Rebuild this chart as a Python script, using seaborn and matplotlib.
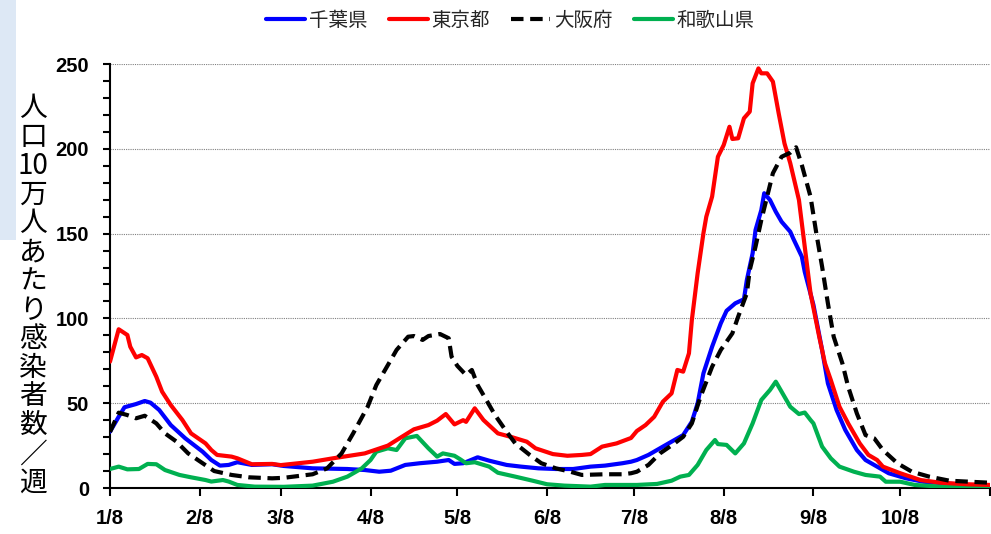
import matplotlib
matplotlib.use("Agg")
import matplotlib.pyplot as plt
from matplotlib import font_manager
from matplotlib.patches import Rectangle
from matplotlib.ticker import MultipleLocator
import seaborn as sns
import pandas as pd

# ---------------- data (days after 2021-01-08, values per 100k per week) -------------
start = "2021-01-08"

chiba_days = [0, 3, 5, 9, 12, 14, 17, 21, 26, 32, 35, 38, 41, 44, 49, 56, 60, 70, 82, 88, 93, 97,
              102, 107, 113, 117, 119, 122, 127, 131, 137, 142, 148, 154, 160, 166, 171, 177, 180,
              182, 186, 191, 195, 198, 201, 203, 205, 208, 211, 213, 216, 219, 220, 222, 223, 225,
              226, 228, 230, 232, 235, 236, 239, 240, 243, 246, 248, 251, 254, 258, 261, 265, 269,
              275, 281, 287, 296, 304]
chiba_vals = [33.2, 42, 47.6, 49.5, 51.3, 50.3, 46, 37.1, 29.3, 21.4, 16.5, 13.2, 13.6, 15.2, 13.6,
              14, 13, 11.6, 11.2, 10.6, 9.6, 10.2, 13.6, 14.6, 15.5, 16.5, 14.2, 14.6, 18.1, 16.1,
              13.6, 12.6, 11.6, 11.2, 11.2, 12.6, 13.2, 14.6, 15.5, 16.5, 19.5, 24.4, 28.3, 31.2,
              39.1, 49.9, 67.6, 83.3, 97.1, 104.5, 108.9, 111.3, 122.6, 138.4, 152.1, 163.9, 173.8,
              169.8, 162.9, 157, 151.1, 147.2, 136.4, 127.5, 108, 81.4, 61.7, 46, 34.2, 22.4, 16.5,
              12.6, 8.7, 5.7, 3.7, 2.9, 1.8, 1.5]

tokyo_days = [0, 3, 6, 7, 9, 11, 13, 16, 18, 21, 25, 28, 33, 35, 37, 42, 44, 49, 56, 59, 70, 77,
              88, 96, 100, 105, 110, 113, 116, 119, 122, 123, 126, 129, 134, 139, 144, 147, 153,
              158, 163, 166, 170, 175, 180, 182, 185, 188, 191, 194, 196, 198, 200, 201, 203, 205,
              206, 208, 210, 212, 214, 215, 217, 219, 221, 222, 224, 225, 227, 229, 231, 233, 235,
              238, 240, 242, 245, 247, 249, 252, 255, 259, 262, 265, 267, 273, 280, 287, 296, 304]
tokyo_vals = [74.5, 93.6, 90.2, 83.3, 77, 78.4, 76.5, 65.6, 56.8, 48.9, 40.1, 32.2, 26.3, 22.4,
              19.5, 18.5, 17.5, 14, 14.2, 13.5, 15.5, 17.5, 20.4, 25, 29.3, 34.6, 37.1, 39.7, 43.6,
              37.5, 40, 39, 47, 40.1, 32.2, 29.9, 27.3, 23.4, 20, 19, 19.5, 20, 24.4, 26.3, 29.5,
              33.6, 37.1, 42, 50.9, 55.8, 69.6, 68.6, 79.4, 99, 126.6, 150.2, 160, 171.8, 195.3,
              202.2, 213, 205.8, 206.2, 218, 221.9, 238.6, 247.4, 244.5, 244.5, 239.6, 220.9,
              203.2, 191.5, 169.8, 142.3, 114.8, 89.2, 73.5, 63.7, 47.9, 38.1, 26.3, 19.5, 16.5,
              12.6, 8.7, 4.7, 3.1, 2.2, 1.8]

osaka_days = [0, 3, 6, 9, 12, 16, 19, 23, 27, 32, 36, 42, 48, 56, 60, 70, 75, 80, 84, 89, 92, 96,
              99, 103, 105, 108, 110, 114, 117, 118, 120, 123, 125, 127, 130, 133, 137, 140, 145,
              149, 154, 159, 163, 171, 177, 180, 182, 186, 190, 195, 198, 201, 204, 208, 211, 215,
              217, 220, 221, 223, 225, 227, 229, 232, 235, 237, 239, 242, 244, 246, 248, 250, 253,
              255, 258, 261, 264, 267, 272, 277, 283, 290, 297, 304]
osaka_vals = [33, 44.4, 43, 41.1, 42.6, 38.1, 32.2, 27.3, 20.4, 14.6, 10, 7.7, 6.3, 5.7, 6, 8.1,
              11.6, 20.4, 32.2, 47.9, 60.7, 72.5, 81.4, 89.2, 89.6, 87.3, 89.6, 90.8, 88.3, 77.4,
              72, 66.6, 69.6, 60.7, 51.9, 43, 33.2, 26.3, 19.5, 14.6, 11.6, 9.6, 7.7, 8.1, 8.1, 8.7,
              9.6, 13.6, 20.4, 26.3, 30.2, 38.1, 53.8, 71.5, 81.4, 91.2, 101, 114.8, 128.5, 142.3,
              158, 171.8, 185.6, 195.3, 197.7, 200.9, 190.4, 171.8, 150.2, 130.5, 108.9, 89.2,
              73.5, 59.7, 44, 31.2, 29.3, 22.4, 14.6, 9.6, 6.7, 4.3, 3.7, 3.1]

wakayama_days = [0, 3, 6, 10, 13, 16, 19, 24, 28, 33, 35, 39, 41, 44, 50, 60, 70, 77, 82, 87, 90,
                 92, 96, 99, 102, 106, 110, 113, 115, 119, 121, 123, 126, 131, 134, 140, 146, 151,
                 157, 166, 171, 182, 189, 194, 197, 200, 203, 206, 209, 210, 213, 216, 219, 222,
                 225, 228, 230, 232, 235, 238, 240, 242, 243, 246, 249, 252, 257, 261, 266, 268,
                 273, 278, 287, 304]
wakayama_vals = [11.2, 12.6, 11, 11.2, 14.2, 14, 10.6, 7.7, 6.3, 4.7, 3.8, 4.7, 3.8, 1.8, 0.8, 0.7,
                 1.4, 3.7, 6.7, 11.6, 16.5, 21.4, 23.4, 22.4, 29.3, 30.7, 23.4, 18.5, 20.4, 19,
                 16.9, 14.6, 15.2, 12.6, 9, 6.7, 4.3, 2.2, 1.4, 0.8, 1.8, 1.8, 2.4, 4.3, 6.7, 7.7,
                 13.6, 22.4, 28.3, 25.9, 25.4, 20.4, 26.3, 38.1, 51.9, 57.8, 62.7, 56.8, 47.9, 43.6,
                 44.5, 40.1, 38.1, 24.4, 17.5, 12.6, 9.6, 7.7, 6.7, 3.7, 3.7, 1.8, 0.8, 0.8]

series_names = ["千葉県", "東京都", "大阪府", "和歌山県"]
x_tick_labels = ["1/8", "2/8", "3/8", "4/8", "5/8", "6/8", "7/8", "8/8", "9/8", "10/8", ""]
y_label = ["人", "口", "10", "万", "人", "あ", "た", "り", "感", "染", "者", "数", "／", "週"]

# ---------------- style ----------------
sns.set_style("white")
available = {f.name for f in font_manager.fontManager.ttflist}
cjk = "Noto Sans CJK JP"
num_font = "Liberation Sans Narrow" if "Liberation Sans Narrow" in available else "Liberation Sans"
plt.rcParams["font.family"] = [cjk, "DejaVu Sans"]

fig = plt.figure(figsize=(9.91, 5.34), dpi=100)
fig.patch.set_facecolor("white")
fig.patches.append(Rectangle((0, 1 - 240 / 534), 16 / 991, 240 / 534, transform=fig.transFigure,
                             facecolor="#dde8f5", edgecolor="none", zorder=0))

ax = fig.add_axes([110 / 991, 46 / 534, 880 / 991, 424 / 534])

t0 = pd.Timestamp(start)
def to_dates(days):
    return [t0 + pd.Timedelta(days=int(d)) for d in days]

specs = [
    (chiba_days, chiba_vals, series_names[0], "#0000FF", 3),
    (wakayama_days, wakayama_vals, series_names[3], "#00B050", 4),
    (tokyo_days, tokyo_vals, series_names[1], "#FF0000", 5),
    (osaka_days, osaka_vals, series_names[2], "black", 6),
]
lines = {}
for days, vals, name, col, z in specs:
    df = pd.DataFrame({"date": to_dates(days), "value": vals})
    sns.lineplot(data=df, x="date", y="value", ax=ax, color=col, lw=3, label=name, zorder=z,
                 solid_joinstyle="round", solid_capstyle="round")
    lines[name] = ax.lines[-1]
lines["大阪府"].set_linestyle("--")
lines["大阪府"].set_dashes([3, 1.6])

if ax.get_legend() is not None:
    ax.get_legend().remove()

ax.set_xlim(t0, pd.Timestamp("2021-11-08"))
ax.set_ylim(0, 250)
ticks = pd.date_range(start, periods=11, freq=pd.DateOffset(months=1))
ax.set_xticks(ticks)
ax.set_xticklabels(x_tick_labels)
ax.set_yticks(range(0, 251, 50))
ax.yaxis.set_minor_locator(MultipleLocator(10))
ax.set_xlabel("")
ax.set_ylabel("")

for lab in ax.get_xticklabels() + ax.get_yticklabels():
    lab.set_fontfamily(num_font)
    lab.set_fontweight("bold")
    lab.set_fontsize(14.5)
    lab.set_color("black")

ax.tick_params(axis="x", which="major", direction="out", length=6, width=1.5, pad=9, color="black")
ax.tick_params(axis="y", which="both", direction="out", length=5, width=1.5, pad=10, color="black",
               left=True)
ax.tick_params(axis="x", bottom=True)

ax.grid(False)
ax.yaxis.grid(True, which="major", linestyle=(0, (1, 1)), color="#808080", lw=0.8)
ax.set_axisbelow(True)
for s in ["top", "right"]:
    ax.spines[s].set_visible(False)
for s in ["left", "bottom"]:
    ax.spines[s].set_color("black")
    ax.spines[s].set_linewidth(1.5)

# legend
order = ["千葉県", "東京都", "大阪府", "和歌山県"]
fig.legend([lines[n] for n in order], order, loc="center", bbox_to_anchor=(0.515, 0.962), ncol=4,
           frameon=False, prop={"family": cjk, "size": 14}, handlelength=2.0, handletextpad=0.2,
           columnspacing=1.1)

# vertical y-axis label (stacked characters)
top_px, bot_px = 108, 483
pitch = (bot_px - top_px) / (len(y_label) - 1)
for i, ch in enumerate(y_label):
    fig.text(33 / 991, 1 - (top_px + i * pitch) / 534, ch, ha="center", va="center",
             fontsize=20, family=[cjk, "DejaVu Sans"], color="black")

fig.savefig("out.png", dpi=100)
